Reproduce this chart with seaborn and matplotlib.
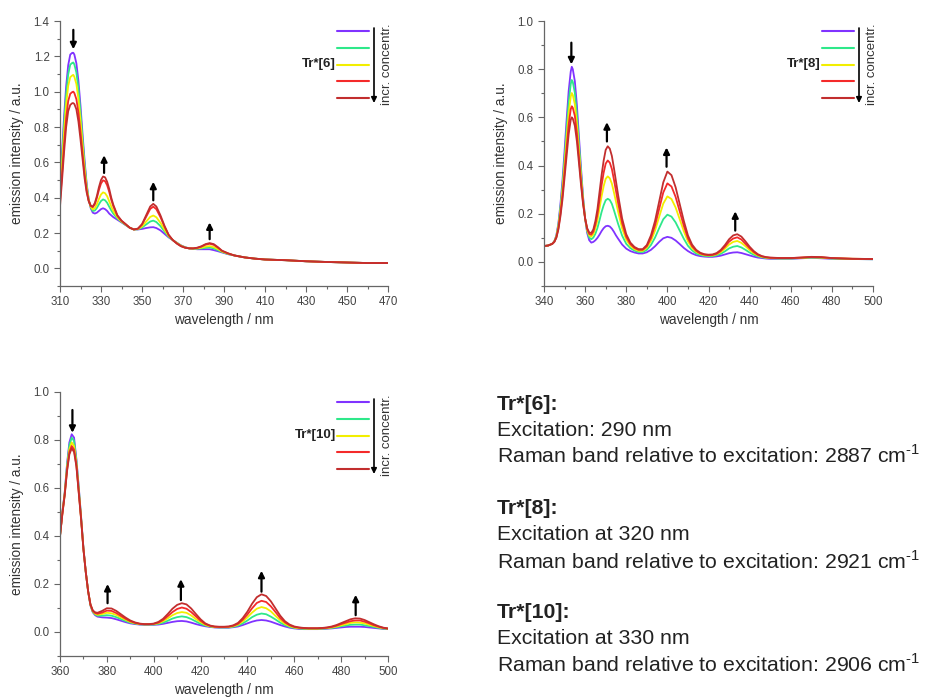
import numpy as np
import pandas as pd
import matplotlib
matplotlib.use("Agg")
import matplotlib.pyplot as plt
from matplotlib.ticker import MultipleLocator
import seaborn as sns

# ---------------- data ----------------
series_names = ["c1", "c2", "c3", "c4", "c5"]
series_colors = ["#8033FF", "#2EE88A", "#F2EE00", "#F42A2A", "#C22E2E"]

# Tr*[6]
wl6 = [310, 311, 312, 313, 314, 315, 316, 316.5, 317, 318, 319, 320, 321, 322, 323, 324, 325, 326,
       327, 328, 329, 330, 331, 332, 333, 334, 335, 336, 338, 340, 342, 344, 346, 348, 350, 352, 354,
       355.5, 357, 359, 361, 363, 365, 367, 369, 371, 373, 375, 377, 379, 381, 383, 385, 387, 389,
       392, 395, 400, 405, 410, 420, 430, 440, 450, 460, 470]
t6_c1 = [.47, .66, .86, 1.03, 1.15, 1.21, 1.22, 1.22, 1.21, 1.16, 1.06, .92, .76, .61, .48, .39, .34, .315,
         .31, .315, .325, .335, .34, .335, .325, .31, .30, .29, .275, .26, .245, .23, .22, .22, .223, .228, .232,
         .233, .228, .215, .195, .175, .16, .145, .13, .12, .113, .11, .108, .108, .108, .108, .103, .097, .09,
         .08, .073, .062, .055, .05, .046, .04, .036, .033, .03, .03]
t6_c2 = [.446, .628, .82, .984, 1.098, 1.153, 1.163, 1.165, 1.154, 1.108, 1.014, .882, .732, .59, .47, .388, .345, .325,
         .327, .342, .363, .381, .39, .385, .371, .349, .328, .31, .282, .263, .246, .23, .22, .221, .231, .248, .265,
         .27, .262, .239, .208, .179, .16, .144, .129, .119, .113, .111, .111, .113, .116, .118, .113, .103, .093,
         .081, .073, .062, .055, .05, .046, .04, .036, .033, .03, .03]
t6_c3 = [.416, .588, .77, .926, 1.033, 1.082, 1.092, 1.095, 1.084, 1.043, .957, .835, .697, .565, .458, .386, .348, .333,
         .34, .363, .393, .418, .43, .425, .408, .38, .35, .325, .288, .265, .248, .23, .22, .222, .237, .264, .291,
         .299, .289, .258, .218, .183, .16, .143, .128, .118, .113, .112, .113, .117, .123, .126, .12, .109, .095,
         .083, .073, .062, .055, .05, .046, .04, .036, .033, .03, .03]
t6_c4 = [.376, .535, .704, .85, .947, .988, .998, 1.0, .992, .957, .881, .772, .651, .532, .441, .382, .353, .346,
         .363, .399, .444, .48, .498, .493, .47, .433, .388, .352, .297, .269, .25, .23, .22, .224, .247, .291, .336,
         .349, .335, .29, .235, .188, .16, .141, .126, .117, .113, .113, .116, .123, .134, .139, .133, .117, .099,
         .084, .073, .062, .055, .05, .046, .04, .036, .033, .03, .03]
t6_c5 = [.35, .50, .66, .80, .89, .925, .935, .935, .93, .90, .83, .73, .62, .51, .43, .38, .355, .35,
         .37, .41, .46, .50, .52, .515, .49, .45, .40, .36, .30, .27, .25, .23, .22, .225, .25, .30, .35,
         .365, .35, .30, .24, .19, .16, .14, .125, .117, .113, .113, .117, .125, .137, .143, .137, .12, .10,
         .085, .073, .062, .055, .05, .046, .04, .036, .033, .03, .03]

# Tr*[8]
wl8 = [340, 342, 344, 345, 346, 347, 348, 349, 350, 351, 352, 353, 353.5, 354, 355, 356, 357, 358, 359, 360,
       361, 362, 363, 364, 365, 366, 367, 368, 369, 370, 371, 372, 373, 374, 375, 376, 378, 380, 382, 384,
       386, 388, 390, 392, 394, 396, 398, 400, 402, 404, 406, 408, 410, 412, 414, 416, 418, 420, 422, 424,
       426, 428, 430, 432, 434, 436, 438, 440, 442, 444, 446, 448, 450, 455, 460, 465, 470, 475, 480, 490, 500]
t8_c1 = [.066, .068, .075, .085, .11, .16, .24, .34, .46, .59, .71, .79, .81, .80, .75, .65, .52, .39, .27, .18,
         .12, .09, .08, .083, .09, .10, .113, .128, .14, .148, .15, .147, .138, .125, .11, .097, .072, .055, .045, .039,
         .035, .035, .04, .05, .065, .083, .098, .104, .10, .089, .074, .058, .045, .035, .028, .024, .022, .021, .021, .023,
         .026, .031, .036, .039, .04, .037, .032, .027, .022, .018, .016, .014, .013, .013, .013, .015, .017, .015, .013, .012, .011]
t8_c2 = [.066, .068, .075, .085, .107, .153, .227, .319, .431, .551, .663, .738, .755, .747, .702, .611, .491, .372, .262, .18,
         .127, .101, .094, .101, .117, .141, .173, .207, .235, .256, .262, .257, .241, .215, .187, .159, .109, .075, .057, .047,
         .041, .041, .05, .07, .101, .14, .177, .196, .188, .164, .13, .096, .067, .048, .035, .029, .025, .024, .024, .028,
         .034, .044, .056, .063, .066, .06, .05, .039, .03, .023, .019, .016, .015, .014, .014, .016, .018, .017, .014, .012, .011]
t8_c3 = [.066, .068, .075, .084, .105, .147, .214, .298, .403, .512, .616, .686, .701, .693, .654, .572, .463, .354, .254, .18,
         .132, .11, .105, .115, .14, .174, .223, .272, .314, .345, .355, .347, .325, .289, .25, .21, .139, .092, .067, .053,
         .046, .046, .059, .087, .13, .187, .242, .272, .261, .226, .177, .127, .085, .058, .042, .033, .028, .027, .027, .032,
         .041, .055, .072, .083, .087, .079, .065, .049, .036, .027, .021, .018, .016, .015, .015, .017, .019, .018, .015, .013, .012]
t8_c4 = [.066, .068, .075, .083, .102, .14, .201, .278, .374, .473, .57, .634, .646, .64, .606, .533, .434, .335, .247, .18,
         .136, .116, .113, .126, .156, .198, .258, .318, .37, .408, .421, .412, .386, .342, .295, .247, .161, .104, .074, .058,
         .05, .05, .065, .099, .151, .22, .288, .326, .313, .27, .21, .15, .098, .065, .046, .035, .03, .028, .029, .034,
         .046, .063, .084, .097, .102, .093, .075, .057, .041, .029, .023, .019, .017, .016, .016, .018, .02, .019, .016, .013, .012]
t8_c5 = [.066, .068, .075, .083, .10, .135, .19, .26, .35, .44, .53, .59, .60, .595, .565, .50, .41, .32, .24, .18,
         .14, .122, .12, .135, .17, .22, .29, .36, .42, .465, .48, .47, .44, .39, .335, .28, .18, .115, .08, .062,
         .053, .053, .07, .11, .17, .25, .33, .375, .36, .31, .24, .17, .11, .072, .05, .038, .032, .03, .031, .037,
         .05, .07, .094, .11, .115, .105, .085, .063, .045, .032, .024, .02, .018, .016, .016, .018, .021, .02, .016, .013, .012]

# Tr*[10]
wl10 = [360, 361, 362, 363, 364, 365, 366, 367, 368, 369, 370, 371, 372, 373, 374, 375, 376, 378, 380, 382,
        384, 386, 388, 390, 392, 394, 396, 398, 400, 402, 404, 406, 408, 410, 412, 414, 416, 418, 420, 422,
        424, 426, 428, 430, 432, 434, 436, 438, 440, 442, 444, 446, 448, 450, 452, 454, 456, 458, 460, 462,
        464, 466, 468, 470, 472, 474, 476, 478, 480, 482, 484, 486, 488, 490, 492, 494, 496, 498, 500]
t10_c1 = [.40, .50, .58, .70, .79, .824, .81, .72, .605, .48, .35, .25, .17, .11, .082, .07, .064, .061, .06, .058,
          .053, .047, .041, .036, .033, .031, .03, .03, .03, .031, .034, .038, .042, .045, .046, .044, .039, .033, .028, .024,
          .021, .019, .018, .018, .018, .02, .023, .029, .036, .043, .048, .05, .048, .043, .036, .029, .023, .018, .015, .013,
          .012, .012, .012, .012, .013, .014, .015, .017, .019, .021, .022, .022, .022, .021, .019, .017, .015, .013, .012]
t10_c2 = [.40, .498, .578, .693, .778, .81, .796, .713, .599, .478, .349, .25, .17, .111, .084, .073, .068, .068, .07, .068,
          .062, .054, .046, .039, .035, .032, .031, .031, .031, .034, .039, .047, .056, .062, .065, .062, .054, .044, .034, .027,
          .023, .02, .019, .019, .019, .022, .027, .036, .048, .062, .072, .077, .074, .064, .052, .039, .029, .021, .017, .015,
          .013, .013, .013, .013, .014, .015, .017, .02, .024, .027, .03, .031, .031, .028, .025, .021, .017, .014, .013]
t10_c3 = [.40, .494, .574, .683, .761, .79, .775, .703, .59, .474, .347, .25, .17, .113, .086, .076, .072, .075, .08, .078,
          .071, .061, .051, .042, .037, .033, .032, .032, .033, .037, .045, .057, .07, .079, .083, .08, .069, .054, .041, .03,
          .024, .021, .02, .02, .021, .024, .031, .044, .061, .081, .097, .104, .099, .086, .067, .049, .034, .025, .019, .016,
          .015, .014, .014, .014, .015, .017, .019, .023, .028, .033, .038, .04, .039, .036, .03, .025, .02, .016, .014]
t10_c4 = [.40, .492, .572, .675, .749, .775, .76, .695, .584, .472, .346, .25, .17, .114, .088, .079, .076, .081, .089, .088,
          .079, .067, .055, .045, .038, .034, .032, .032, .034, .039, .05, .066, .083, .096, .102, .097, .083, .065, .047, .033,
          .026, .022, .021, .021, .022, .026, .034, .051, .073, .099, .121, .13, .125, .107, .083, .058, .04, .028, .021, .018,
          .016, .015, .015, .015, .016, .018, .021, .026, .033, .039, .045, .048, .048, .043, .036, .028, .022, .017, .014]
t10_c5 = [.40, .49, .57, .67, .74, .765, .75, .69, .58, .47, .345, .25, .17, .115, .09, .082, .08, .088, .099, .098,
          .088, .074, .06, .048, .04, .035, .033, .033, .035, .042, .055, .075, .097, .113, .12, .115, .098, .075, .053, .036,
          .027, .023, .022, .022, .023, .028, .038, .058, .085, .118, .145, .157, .15, .128, .098, .068, .045, .031, .023, .019,
          .017, .016, .016, .016, .017, .019, .023, .029, .037, .045, .053, .057, .056, .05, .041, .032, .024, .018, .015]

# arrows: (wavelength, start, end)
arrows6 = [(316.5, 1.35, 1.24), (331.5, 0.54, 0.64), (355.5, 0.385, 0.49), (383, 0.165, 0.26)]
arrows8 = [(353.3, 0.91, 0.82), (370.6, 0.50, 0.58), (399.6, 0.395, 0.475), (433, 0.13, 0.21)]
arrows10 = [(365.3, 0.925, 0.83), (380.3, 0.12, 0.20), (411.6, 0.133, 0.22), (446, 0.168, 0.255), (486.2, 0.07, 0.155)]

text_lines = [
    ("Tr*[6]:", True), ("Excitation: 290 nm", False),
    ("Raman band relative to excitation: 2887 cm$^{\\text{-1}}$", False),
    ("Tr*[8]:", True), ("Excitation at 320 nm", False),
    ("Raman band relative to excitation: 2921 cm$^{\\text{-1}}$", False),
    ("Tr*[10]:", True), ("Excitation at 330 nm", False),
    ("Raman band relative to excitation: 2906 cm$^{\\text{-1}}$", False),
]

# ---------------- style ----------------
sns.set_style("ticks")
plt.rcParams["font.family"] = ["Liberation Sans", "DejaVu Sans"]
plt.rcParams["mathtext.fontset"] = "custom"
plt.rcParams["mathtext.rm"] = "Liberation Sans"

AX_COL = "#666666"
TXT_COL = "#333333"

fig = plt.figure(figsize=(9.31, 6.97), dpi=100)
W, H = 931, 697


def add_axes(left, top, right, bottom):
    return fig.add_axes([left / W, 1 - bottom / H, (right - left) / W, (bottom - top) / H])


def make_df(wl, ys):
    frames = []
    for name, y in zip(series_names, ys):
        frames.append(pd.DataFrame({"wavelength": wl, "intensity": y, "series": name}))
    return pd.concat(frames, ignore_index=True)


panels = [
    dict(box=(60, 21, 388, 286), wl=wl6, ys=[t6_c1, t6_c2, t6_c3, t6_c4, t6_c5], xlim=(310, 470),
         xmaj=20, ylim=(-0.1, 1.4), arrows=arrows6, label="Tr*[6]"),
    dict(box=(544, 21, 873, 286), wl=wl8, ys=[t8_c1, t8_c2, t8_c3, t8_c4, t8_c5], xlim=(340, 500),
         xmaj=20, ylim=(-0.1, 1.0), arrows=arrows8, label="Tr*[8]"),
    dict(box=(60, 392, 388, 656), wl=wl10, ys=[t10_c1, t10_c2, t10_c3, t10_c4, t10_c5], xlim=(360, 500),
         xmaj=20, ylim=(-0.1, 1.0), arrows=arrows10, label="Tr*[10]"),
]

for p in panels:
    ax = add_axes(*p["box"])
    df = make_df(p["wl"], p["ys"])
    sns.lineplot(data=df, x="wavelength", y="intensity", hue="series", palette=series_colors,
                 hue_order=series_names, ax=ax, legend=False, linewidth=1.3, errorbar=None)
    ax.set_xlim(*p["xlim"])
    ax.set_ylim(*p["ylim"])
    ax.set_xticks(np.arange(p["xlim"][0], p["xlim"][1] + 1, p["xmaj"]))
    ax.xaxis.set_minor_locator(MultipleLocator(10))
    ax.set_yticks(np.arange(0, p["ylim"][1] + 0.01, 0.2))
    ax.yaxis.set_minor_locator(MultipleLocator(0.1))
    ax.yaxis.set_major_formatter(matplotlib.ticker.FormatStrFormatter("%.1f"))
    sns.despine(ax=ax)
    for s in ("left", "bottom"):
        ax.spines[s].set_color(AX_COL)
        ax.spines[s].set_linewidth(0.9)
    ax.tick_params(which="major", direction="out", length=4, width=0.8, color=AX_COL,
                   labelsize=8.3, labelcolor="#444444")
    ax.tick_params(which="minor", direction="out", length=2.5, width=0.8, color=AX_COL)
    ax.set_xlabel("wavelength / nm", fontsize=9.8, color=TXT_COL, labelpad=3)
    ax.set_ylabel("emission intensity / a.u.", fontsize=9.8, color=TXT_COL, labelpad=7)

    for (x, y0, y1) in p["arrows"]:
        ax.annotate("", xy=(x, y1), xytext=(x, y0),
                    arrowprops=dict(arrowstyle="-|>", color="black", lw=1.6,
                                    mutation_scale=9, shrinkA=0, shrinkB=0))

    # custom legend (positions relative to the axes box, in pixels from its top-right)
    l, t, r, b = p["box"]
    aw, ah = r - l, b - t
    lx0 = (aw - 51) / aw
    lx1 = (aw - 19) / aw
    for i, c in enumerate(series_colors):
        yy = (ah - (10 + i * 16.8)) / ah
        ax.plot([lx0, lx1], [yy, yy], color=c, lw=1.5, transform=ax.transAxes, clip_on=False)
    ymid = (ah - 43) / ah
    ax.text(lx0 - 0.003, ymid, p["label"], transform=ax.transAxes, ha="right", va="center",
            fontsize=9.5, fontweight="bold", color="#222222")
    ax_x = (aw - 14) / aw
    ytop = (ah - 7) / ah
    ybot = (ah - 82) / ah
    ax.annotate("", xy=(ax_x, ybot), xytext=(ax_x, ytop), xycoords="axes fraction",
                textcoords="axes fraction",
                arrowprops=dict(arrowstyle="-|>", color="black", lw=1.2, mutation_scale=8,
                                shrinkA=0, shrinkB=0))
    ax.text((aw - 1) / aw, ymid, "incr. concentr.", transform=ax.transAxes, rotation=90,
            ha="center", va="center", fontsize=9.5, color=TXT_COL)

# text block
ys_txt = [405, 430, 456, 509, 535, 561, 613, 639, 665]
for (txt, bold), yy in zip(text_lines, ys_txt):
    fig.text(497 / W, 1 - yy / H, txt, ha="left", va="center", fontsize=15.3,
             fontweight="bold" if bold else "normal", color="#222222")

fig.savefig("out.png", dpi=100)
